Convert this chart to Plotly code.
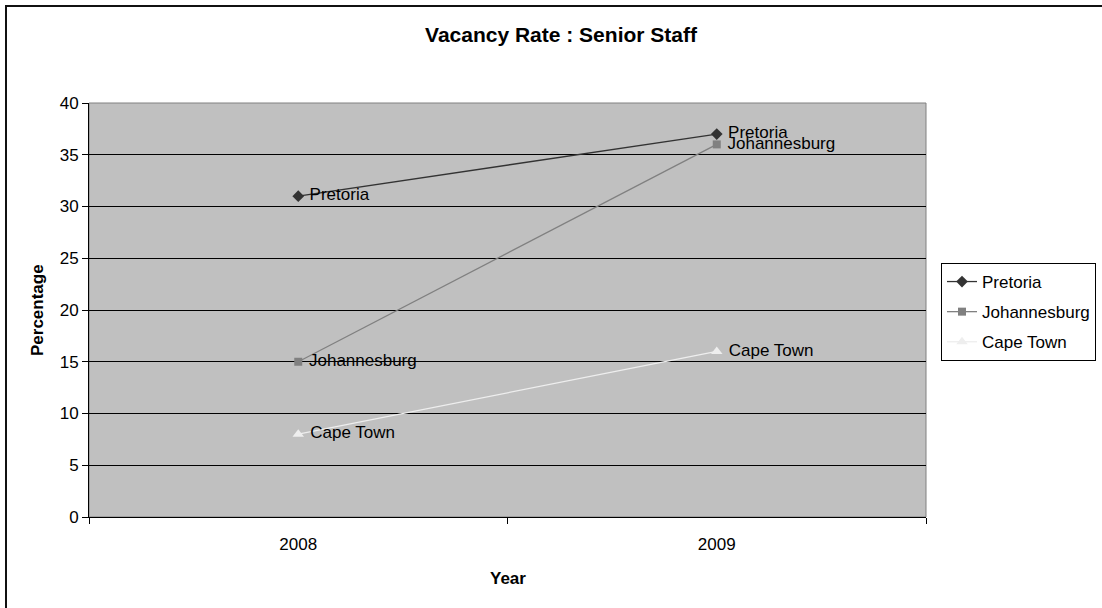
import plotly.graph_objects as go

# Vacancy rate for senior staff, by city and year
years = ["2008", "2009"]
pretoria = [31, 37]
johannesburg = [15, 36]
cape_town = [8, 16]

series = [
    ("Pretoria", pretoria, "#333333", "diamond", 9),
    ("Johannesburg", johannesburg, "#808080", "square", 8),
    ("Cape Town", cape_town, "#EEEEEE", "triangle-up", 10),
]

W, H = 1102, 608
L, R, T, B = 89, 176, 103, 91
PW, PH = W - L - R, H - T - B


def px_x(x):
    return (x - L) / PW


def px_y(y):
    return (H - B - y) / PH


FONT = "Liberation Sans, Arial, sans-serif"
GAP = "\u00a0"  # small gap between marker and its label

fig = go.Figure()
for name, vals, color, symbol, msize in series:
    fig.add_trace(go.Scatter(
        x=years, y=vals, name=name, legendgroup=name,
        mode="lines+markers+text",
        text=[GAP + name] * len(vals), textposition="middle right",
        textfont=dict(family=FONT, size=17, color="black"),
        line=dict(color=color, width=1.3),
        marker=dict(symbol=symbol, size=msize, color=color),
    ))

fig.update_layout(
    width=W, height=H,
    margin=dict(l=L, r=R, t=T, b=B, autoexpand=False),
    paper_bgcolor="white",
    plot_bgcolor="#C0C0C0",
    font=dict(family=FONT, size=16, color="black"),
    title=dict(text="<b>Vacancy Rate : Senior Staff</b>",
               x=561 / W, xanchor="center", xref="container",
               y=1 - 35 / H, yanchor="middle", yref="container",
               font=dict(size=21, color="black")),
    showlegend=True,
    legend=dict(x=px_x(941), y=px_y(263), xanchor="left", yanchor="top",
                bordercolor="black", borderwidth=1, bgcolor="white",
                font=dict(size=17), tracegroupgap=5,
                traceorder="grouped"),
    xaxis=dict(type="category", range=[-0.5, 1.5], tickson="boundaries",
               ticks="outside", ticklen=6, tickcolor="black",
               showline=True, linecolor="black", linewidth=1,
               showgrid=False, ticklabelstandoff=12,
               tickfont=dict(size=17)),
    yaxis=dict(range=[0, 40], dtick=5, ticks="outside", ticklen=6,
               tickcolor="black", showline=True, linecolor="black",
               linewidth=1, showgrid=True, gridcolor="black", gridwidth=1,
               zeroline=False, tickfont=dict(size=17)),
    annotations=[
        dict(text="<b>Year</b>", xref="paper", yref="paper",
             x=px_x(508), y=px_y(578), showarrow=False,
             xanchor="center", yanchor="middle", font=dict(size=17)),
        dict(text="<b>Percentage</b>", xref="paper", yref="paper",
             x=px_x(37), y=px_y(310), showarrow=False, textangle=-90,
             xanchor="center", yanchor="middle", font=dict(size=17)),
    ],
    shapes=[
        # plot-area border
        dict(type="rect", xref="paper", yref="paper", x0=0, x1=1, y0=0, y1=1,
             line=dict(color="#808080", width=1), layer="below"),
        # outer chart frame
        dict(type="rect", xref="paper", yref="paper",
             x0=px_x(6), x1=px_x(1110), y0=px_y(620), y1=px_y(6),
             line=dict(color="#111111", width=2)),
    ],
)

fig.write_html("out.html")
